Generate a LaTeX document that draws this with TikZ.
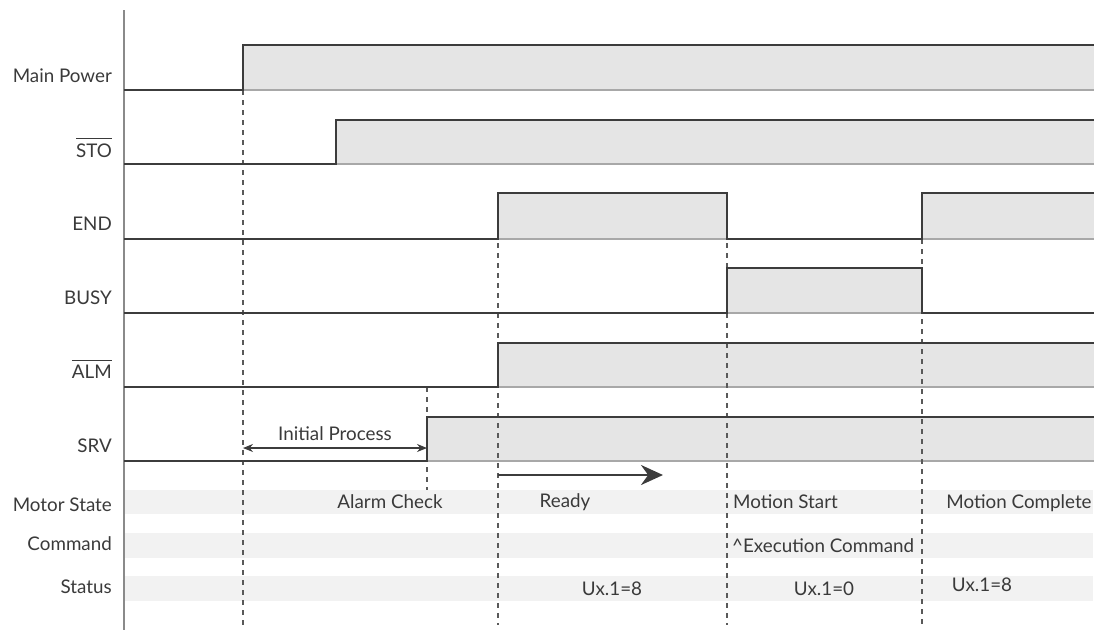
\documentclass[tikz,border=0pt]{standalone}
\usepackage{fontspec}
\setmainfont{Lato}
\usetikzlibrary{arrows.meta}
\definecolor{SigLine}{HTML}{3C3C3C}
\definecolor{HiFill}{HTML}{E5E5E5}
\definecolor{EdgeGray}{HTML}{A8A8A8}
\definecolor{BandGray}{HTML}{F2F2F2}
\definecolor{TextGray}{HTML}{3A3A3A}
\definecolor{AxisGray}{HTML}{8A8A8A}
\newcommand\barsig[1]{\vbox{\hrule height 1pt\kern 4pt\hbox{#1}}}

\begin{document}
\begin{tikzpicture}[x=1pt, y=-1pt,
        sig/.style={draw=SigLine, line width=1.6pt},
        hi/.style={fill=HiFill},
        lowedge/.style={draw=EdgeGray, line width=1.2pt},
        band/.style={fill=BandGray},
        sync/.style={draw=SigLine!85, line width=1.1pt, dash pattern=on 5pt off 5pt},
        lbl/.style={anchor=east, text=TextGray, inner sep=0pt,
                    font=\fontsize{18.8}{22}\selectfont},
        phase/.style={text=TextGray, inner sep=0pt,
                      font=\fontsize{18.8}{22}\selectfont},
        ar/.style={-{Stealth[length=22pt, width=20pt]}, draw=SigLine, line width=2.6pt},
        span/.style={{Stealth[length=10pt, width=8pt]}-{Stealth[length=10pt, width=8pt]},
                     draw=SigLine, line width=1.1pt},
      ]
      \useasboundingbox (0,0) rectangle (1102,630);

      % state bands
      \fill[band] (124,490) rectangle (1093,514);
      \fill[band] (124,533) rectangle (1093,558);
      \fill[band] (124,576) rectangle (1093,601);

      % high levels
      \fill[hi] (243,45) rectangle (1094,90);
      \fill[hi] (336,120) rectangle (1094,164);
      \fill[hi] (498,193) rectangle (727,239);
      \fill[hi] (922,193) rectangle (1094,239);
      \fill[hi] (727,268) rectangle (922,313);
      \fill[hi] (498,343) rectangle (1094,387);
      \fill[hi] (427,417) rectangle (1094,461);
      \draw[lowedge] (243,90) -- (1094,90);
      \draw[lowedge] (336,164) -- (1094,164);
      \draw[lowedge] (498,239) -- (727,239);
      \draw[lowedge] (922,239) -- (1094,239);
      \draw[lowedge] (727,313) -- (922,313);
      \draw[lowedge] (498,387) -- (1094,387);
      \draw[lowedge] (427,461) -- (1094,461);

      % sync lines
      \draw[sync] (243,90) -- (243,625);
      \draw[sync] (427,387) -- (427,490);
      \draw[sync] (498,193) -- (498,625);
      \draw[sync] (727,193) -- (727,625);
      \draw[sync] (922,239) -- (922,625);

      % axis
      \draw[AxisGray, line width=1.3pt] (124,10) -- (124,630);

      % waveforms
      \draw[sig] (124,90) -- (243,90) -- (243,45) -- (1094,45);
      \draw[sig] (124,164) -- (336,164) -- (336,120) -- (1094,120);
      \draw[sig] (124,239) -- (498,239) -- (498,193) -- (727,193) -- (727,239)
                 -- (922,239) -- (922,193) -- (1094,193);
      \draw[sig] (124,313) -- (727,313) -- (727,268) -- (922,268) -- (922,313)
                 -- (1094,313);
      \draw[sig] (124,387) -- (498,387) -- (498,343) -- (1094,343);
      \draw[sig] (124,461) -- (427,461) -- (427,417) -- (1094,417);

      % signal names
      \node[lbl] (pwr) at (112,76) {Main Power};
      \node[lbl, anchor=base east] (sto) at (112,157) {\barsig{STO}};
      \node[lbl] (endsig) at (112,224) {END};
      \node[lbl] (busy) at (112,298) {BUSY};
      \node[lbl, anchor=base east] (alm) at (112,378) {\barsig{ALM}};
      \node[lbl] (srv) at (112,446) {SRV};
      \node[lbl] (motor) at (112,505) {Motor State};
      \node[lbl] (cmd) at (112,544) {Command};
      \node[lbl] (stat) at (112,587) {Status};

      % initial process span
      \coordinate (ipa) at (243,448);
      \coordinate (ipb) at (427,448);
      \draw[span] (ipa) -- (ipb);
      \node[phase] (init) at (335,434) {Initial Process};

      % ready arrow
      \coordinate (rdya) at (498,475);
      \coordinate (rdyb) at (663,475);
      \draw[ar] (rdya) -- (rdyb);

      % phases
      \node[phase] (alchk) at (390,502) {Alarm Check};
      \node[phase] (ready) at (565,502) {Ready};
      \node[phase, anchor=west] (mstart) at (733,502) {Motion Start};
      \node[phase] (mdone) at (1019,503) {Motion Complete};
      \node[phase, anchor=west] (exec) at (732,546) {\textasciicircum Execution Command};
      \node[phase] (st1) at (612,589) {Ux.1=8};
      \node[phase] (st2) at (824,589) {Ux.1=0};
      \node[phase] (st3) at (982,585) {Ux.1=8};
    \end{tikzpicture}
\end{document}
